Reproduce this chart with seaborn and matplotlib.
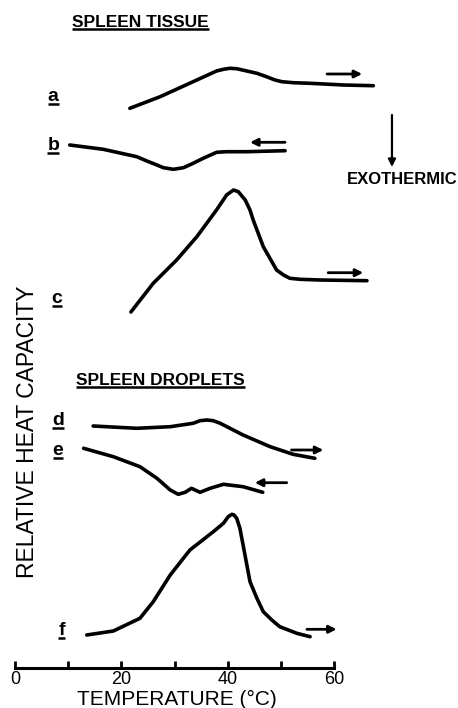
import matplotlib
matplotlib.use("Agg")
import matplotlib.pyplot as plt
import numpy as np
import pandas as pd
import seaborn as sns

# temperature (deg C) and relative heat capacity (arbitrary units, traces offset)
temp_a = [21.6, 27.3, 33.5, 37.9, 39.2, 40.4, 41.7, 43.6, 45.5, 47.3, 48.9, 50.2, 52.3, 55.5, 61.8, 67.4]
hc_a = [559.7, 571.3, 586.3, 597.0, 598.7, 599.7, 599.3, 597.0, 594.7, 591.3, 588.0, 586.3, 585.3, 584.7, 583.0, 582.3]

temp_b = [10.3, 16.6, 22.9, 24.8, 26.7, 27.9, 29.8, 31.7, 33.5, 35.4, 37.9, 39.8, 43.6, 50.8]
hc_b = [523.0, 518.7, 511.3, 507.0, 503.0, 500.3, 498.7, 500.3, 504.7, 509.7, 515.7, 516.3, 516.3, 517.3]

temp_c = [21.8, 26.0, 30.4, 34.2, 37.9, 39.8, 41.1, 42.0, 43.3, 44.2, 44.8, 46.7, 49.2, 50.5, 51.7, 53.6, 57.4, 66.2]
hc_c = [356.0, 384.7, 408.0, 431.3, 458.0, 473.0, 478.0, 476.3, 468.0, 458.0, 448.0, 421.3, 398.0, 393.0, 389.7, 388.7, 388.0, 387.3]

temp_d = [14.7, 22.9, 29.2, 33.5, 34.8, 36.1, 37.3, 38.6, 42.9, 48.0, 52.3, 56.4]
hc_d = [242.0, 239.7, 241.3, 244.7, 247.3, 248.0, 247.3, 244.7, 233.0, 221.3, 213.7, 209.7]

temp_e = [12.9, 18.5, 23.5, 26.7, 29.2, 30.7, 32.0, 33.2, 34.8, 36.7, 39.2, 42.9, 46.6]
hc_e = [219.7, 211.3, 201.3, 189.7, 178.0, 173.7, 175.7, 179.7, 175.7, 179.7, 183.7, 181.3, 175.7]

temp_f = [13.5, 18.5, 23.5, 26.0, 29.2, 32.9, 37.3, 39.2, 40.1, 40.8, 41.2, 41.7, 42.3, 42.9, 44.2, 45.5, 46.7, 48.3, 49.8, 53.0, 55.5]
hc_f = [33.0, 37.0, 49.7, 66.3, 93.0, 118.0, 136.3, 144.7, 151.3, 153.7, 153.0, 149.7, 139.7, 123.0, 86.3, 69.7, 56.3, 48.0, 41.3, 34.7, 31.3]

trace_names = ["a", "b", "c", "d", "e", "f"]
# scan direction arrows: (start temp, end temp, level)
arrow_a = (58.7, 65.3, 594.0)
arrow_b = (50.8, 44.2, 525.7)
arrow_c = (58.9, 65.5, 395.3)
arrow_d = (52.0, 58.0, 218.0)
arrow_e = (51.1, 45.1, 185.3)
arrow_f = (54.9, 60.5, 38.7)

label_pos = {"a": (7.2, 567), "b": (7.2, 518), "c": (7.9, 365),
             "d": (8.1, 243), "e": (8.1, 213), "f": (8.8, 33)}

df = pd.concat([
    pd.DataFrame({"temp": t, "hc": h, "trace": n})
    for t, h, n in zip([temp_a, temp_b, temp_c, temp_d, temp_e, temp_f],
                       [hc_a, hc_b, hc_c, hc_d, hc_e, hc_f], trace_names)
], ignore_index=True)

sns.set_style("white")
plt.rcParams["font.family"] = ["Liberation Sans", "DejaVu Sans"]
plt.rcParams["text.color"] = "black"
plt.rcParams["axes.labelcolor"] = "black"
plt.rcParams["xtick.color"] = "black"

fig = plt.figure(figsize=(4.58, 7.08), dpi=100)
ax = fig.add_axes([0, 0, 1, 1])
ax.set_xlim(-2.82, 83.32)
ax.set_ylim(-40, 668)
ax.autoscale(False)

sns.lineplot(data=df, x="temp", y="hc", units="trace", estimator=None,
             sort=False, color="black", lw=2.6, ax=ax,
             solid_capstyle="round", solid_joinstyle="round")

for x0, x1, y in [arrow_a, arrow_b, arrow_c, arrow_d, arrow_e, arrow_f]:
    ax.annotate("", xy=(x1, y), xytext=(x0, y),
                arrowprops=dict(arrowstyle="-|>", color="black", lw=2,
                                mutation_scale=11, shrinkA=0, shrinkB=0))

# exothermic direction
ax.annotate("", xy=(70.9, 501), xytext=(70.9, 553),
            arrowprops=dict(arrowstyle="-|>", color="black", lw=1.6,
                            mutation_scale=11, shrinkA=0, shrinkB=0))
ax.text(72.8, 488, "EXOTHERMIC", ha="center", va="center",
        fontsize=12, fontweight="bold")

underlined = []
underlined.append(ax.text(10.7, 641, "SPLEEN TISSUE", ha="left", va="baseline",
                          fontsize=12.5, fontweight="bold"))
underlined.append(ax.text(11.5, 283, "SPLEEN DROPLETS", ha="left", va="baseline",
                          fontsize=12.5, fontweight="bold"))
for name in trace_names:
    x, y = label_pos[name]
    underlined.append(ax.text(x, y, name, ha="center", va="baseline",
                              fontsize=14, fontweight="bold"))

# axis
for side in ["left", "top", "right"]:
    ax.spines[side].set_visible(False)
ax.spines["bottom"].set_position(("data", 0))
ax.spines["bottom"].set_bounds(0, 60)
ax.spines["bottom"].set_linewidth(2.2)
ax.spines["bottom"].set_color("black")
ax.set_xticks([0, 20, 40, 60])
ax.set_xticks([10, 30, 50], minor=True)
ax.tick_params(axis="x", which="both", direction="in", length=5, width=2,
               pad=2, labelsize=13, bottom=True, colors="black")
ax.set_yticks([])
ax.set_xlabel("TEMPERATURE (\u00b0C)", fontsize=15, va="top")
ax.xaxis.set_label_coords(0.3865, 0.026)
ax.set_ylabel("RELATIVE HEAT CAPACITY", fontsize=16.5, va="center")
ax.yaxis.set_label_coords(0.059, 0.39)

# underline the labels
fig.canvas.draw()
inv = ax.transData.inverted()
for t in underlined:
    bb = t.get_window_extent()
    (ux0, uy), (ux1, _) = inv.transform([(bb.x0, bb.y0 + 1), (bb.x1, bb.y0 + 1)])
    ax.plot([ux0, ux1], [uy, uy], color="black", lw=1.8, solid_capstyle="butt")

fig.savefig("out.png", dpi=100)
